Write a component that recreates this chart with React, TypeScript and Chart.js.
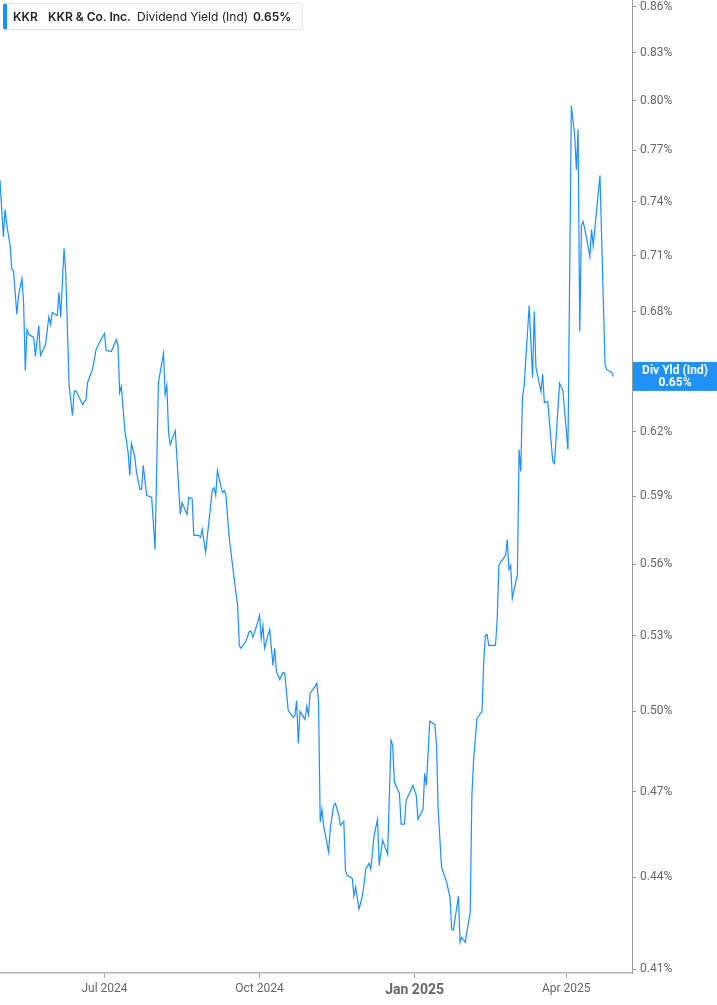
import React, { useEffect, useRef } from 'react';
import { Chart, registerables } from 'chart.js';

Chart.register(...registerables);

// ---- data ----
const dates: string[] = [
  '2024-04-30','2024-05-02','2024-05-03','2024-05-04','2024-05-06','2024-05-07','2024-05-08','2024-05-10','2024-05-11','2024-05-13',
  '2024-05-14','2024-05-15','2024-05-16','2024-05-17','2024-05-20','2024-05-21','2024-05-23','2024-05-24','2024-05-27','2024-05-29',
  '2024-05-30','2024-05-31','2024-06-03','2024-06-04','2024-06-05','2024-06-07','2024-06-08','2024-06-10','2024-06-12','2024-06-13',
  '2024-06-14','2024-06-18','2024-06-20','2024-06-21','2024-06-24','2024-06-26','2024-06-28','2024-07-01','2024-07-02','2024-07-05',
  '2024-07-08','2024-07-09','2024-07-10','2024-07-11','2024-07-13','2024-07-15','2024-07-16','2024-07-17','2024-07-19','2024-07-20',
  '2024-07-22','2024-07-23','2024-07-24','2024-07-26','2024-07-29','2024-07-31','2024-08-02','2024-08-05','2024-08-06','2024-08-07',
  '2024-08-08','2024-08-09','2024-08-12','2024-08-15','2024-08-16','2024-08-19','2024-08-20','2024-08-22','2024-08-23','2024-08-26',
  '2024-08-27','2024-08-28','2024-08-30','2024-09-03','2024-09-04','2024-09-05','2024-09-06','2024-09-08','2024-09-09','2024-09-10',
  '2024-09-11','2024-09-13','2024-09-16','2024-09-18','2024-09-19','2024-09-20','2024-09-23','2024-09-25','2024-09-26','2024-09-27',
  '2024-09-29','2024-10-01','2024-10-02','2024-10-03','2024-10-04','2024-10-06','2024-10-07','2024-10-09','2024-10-10','2024-10-11',
  '2024-10-13','2024-10-15','2024-10-16','2024-10-18','2024-10-21','2024-10-22','2024-10-23','2024-10-24','2024-10-25','2024-10-28',
  '2024-10-29','2024-10-30','2024-10-31','2024-11-03','2024-11-04','2024-11-05','2024-11-06','2024-11-07','2024-11-08','2024-11-11',
  '2024-11-12','2024-11-14','2024-11-15','2024-11-17','2024-11-18','2024-11-20','2024-11-21','2024-11-22','2024-11-25','2024-11-26',
  '2024-11-27','2024-11-29','2024-12-01','2024-12-02','2024-12-03','2024-12-05','2024-12-06','2024-12-08','2024-12-10','2024-12-11',
  '2024-12-13','2024-12-16','2024-12-18','2024-12-19','2024-12-20','2024-12-23','2024-12-24','2024-12-26','2024-12-27','2024-12-31',
  '2025-01-02','2025-01-03','2025-01-06','2025-01-07','2025-01-08','2025-01-10','2025-01-13','2025-01-14','2025-01-15','2025-01-17',
  '2025-01-20','2025-01-22','2025-01-23','2025-01-24','2025-01-27','2025-01-28','2025-01-29','2025-01-31','2025-02-03','2025-02-04',
  '2025-02-05','2025-02-07','2025-02-10','2025-02-11','2025-02-12','2025-02-13','2025-02-14','2025-02-18','2025-02-19','2025-02-20',
  '2025-02-21','2025-02-24','2025-02-25','2025-02-26','2025-02-27','2025-02-28','2025-03-03','2025-03-04','2025-03-05','2025-03-06',
  '2025-03-07','2025-03-10','2025-03-12','2025-03-13','2025-03-14','2025-03-17','2025-03-18','2025-03-19','2025-03-21','2025-03-24',
  '2025-03-25','2025-03-28','2025-03-30','2025-04-02','2025-04-04','2025-04-06','2025-04-07','2025-04-08','2025-04-09','2025-04-10',
  '2025-04-11','2025-04-13','2025-04-15','2025-04-16','2025-04-17','2025-04-21','2025-04-24','2025-04-25','2025-04-28','2025-04-29',
];

const yields: number[] = [
  0.7523,0.7205,0.7357,0.7272,0.7156,0.7025,0.7019,0.6786,0.6886,0.6976,
  0.6849,0.6500,0.6708,0.6682,0.6667,0.6570,0.6729,0.6575,0.6631,0.6775,
  0.6734,0.6796,0.6781,0.6902,0.6770,0.7139,0.7009,0.6425,0.6278,0.6395,
  0.6400,0.6332,0.6356,0.6440,0.6510,0.6605,0.6641,0.6687,0.6600,0.6595,
  0.6656,0.6626,0.6390,0.6420,0.6211,0.6102,0.5995,0.6145,0.6079,0.6009,
  0.5931,0.5931,0.6042,0.5904,0.5895,0.5663,0.6440,0.6585,0.6381,0.6425,
  0.6197,0.6140,0.6206,0.5818,0.5872,0.5818,0.5895,0.5890,0.5725,0.5725,
  0.5716,0.5751,0.5650,0.5931,0.5940,0.5904,0.6018,0.5949,0.5917,0.5926,
  0.5908,0.5716,0.5534,0.5425,0.5260,0.5248,0.5280,0.5317,0.5317,0.5293,
  0.5334,0.5383,0.5289,0.5342,0.5248,0.5301,0.5325,0.5180,0.5248,0.5156,
  0.5124,0.5152,0.5148,0.5004,0.4977,0.4984,0.5042,0.4878,0.5000,0.4969,
  0.5019,0.4988,0.5070,0.5097,0.5109,0.5035,0.4591,0.4637,0.4580,0.4486,
  0.4573,0.4651,0.4658,0.4616,0.4580,0.4594,0.4424,0.4407,0.4397,0.4337,
  0.4367,0.4294,0.4337,0.4377,0.4428,0.4448,0.4428,0.4545,0.4601,0.4441,
  0.4528,0.4479,0.4890,0.4871,0.4734,0.4694,0.4584,0.4584,0.4669,0.4723,
  0.4687,0.4601,0.4637,0.4767,0.4723,0.4962,0.4950,0.4875,0.4633,0.4434,
  0.4384,0.4333,0.4228,0.4225,0.4337,0.4186,0.4202,0.4186,0.4284,0.4687,
  0.4815,0.4973,0.5000,0.5192,0.5301,0.5305,0.5260,0.5260,0.5367,0.5594,
  0.5607,0.5637,0.5707,0.5577,0.5594,0.5454,0.5556,0.6116,0.6014,0.6366,
  0.6425,0.6833,0.6465,0.6801,0.6515,0.6395,0.6480,0.6341,0.6346,0.6060,
  0.6051,0.6435,0.6400,0.6116,0.7969,0.7788,0.7586,0.7824,0.6698,0.7267,
  0.7289,0.7200,0.7095,0.7244,0.7156,0.7552,0.6530,0.6505,0.6490,0.6470,
];

const yTicks: number[] = [0.41, 0.44, 0.47, 0.5, 0.53, 0.56, 0.59, 0.62, 0.65, 0.68, 0.71, 0.74, 0.77, 0.8, 0.83, 0.86];
const xTickDates: string[] = ['2024-07-01', '2024-10-01', '2025-01-01', '2025-04-01'];
const xTickLabels: string[] = ['Jul 2024', 'Oct 2024', 'Jan 2025', 'Apr 2025'];

const AXIS_START = '2024-04-30';
const AXIS_END = '2025-05-10';
const Y_MIN = 0.4088;
const Y_MAX = 0.8644;

const TICKER = 'KKR';
const COMPANY = 'KKR & Co. Inc.';
const METRIC = 'Dividend Yield (Ind)';
const BADGE_TITLE = 'Div Yld (Ind)';

const LINE_COLOR = '#1e8fff';
const BADGE_COLOR = '#2192f5';
const TICK_COLOR = '#666666';

const DAY_MS = 86400000;
const dayOf = (s: string) =>
  (Date.parse(s + 'T00:00:00Z') - Date.parse(AXIS_START + 'T00:00:00Z')) / DAY_MS;

const lastValue = yields[yields.length - 1];

const badgePlugin = {
  id: 'lastValueBadge',
  afterDraw(chart: any) {
    const { ctx, chartArea, scales } = chart;
    const y = scales.y.getPixelForValue(lastValue);
    const left = chartArea.right + 1;
    const w = chart.width - left;
    const h = 29;
    ctx.save();
    ctx.fillStyle = BADGE_COLOR;
    ctx.fillRect(left, y - h / 2, w, h);
    ctx.fillStyle = '#ffffff';
    ctx.font = 'bold 12px Roboto';
    ctx.textAlign = 'center';
    ctx.textBaseline = 'middle';
    ctx.fillText(BADGE_TITLE, left + w / 2, y - 5);
    ctx.fillText(lastValue.toFixed(2) + '%', left + w / 2, y + 6.5);
    ctx.restore();
  },
};

export default function App() {
  const ref = useRef<HTMLCanvasElement>(null);

  useEffect(() => {
    document.body.style.margin = '0';
    const canvas = ref.current;
    if (!canvas) return;
    const points = dates.map((d, i) => ({ x: dayOf(d), y: yields[i] }));
    const chart = new Chart(canvas, {
      type: 'line',
      data: {
        datasets: [
          {
            data: points,
            borderColor: LINE_COLOR,
            borderWidth: 1.2,
            pointRadius: 0,
            tension: 0,
            fill: false,
          },
        ],
      },
      options: {
        animation: false,
        responsive: false,
        maintainAspectRatio: false,
        events: [],
        layout: { padding: 0 },
        plugins: { legend: { display: false }, tooltip: { enabled: false } },
        scales: {
          x: {
            type: 'linear',
            min: 0,
            max: dayOf(AXIS_END),
            afterBuildTicks: (s: any) => {
              s.ticks = xTickDates.map((d) => ({ value: dayOf(d) }));
            },
            afterFit: (s: any) => {
              s.height = 32;
              s.paddingLeft = 0;
              s.paddingRight = 0;
            },
            ticks: {
              autoSkip: false,
              maxRotation: 0,
              padding: 4,
              color: TICK_COLOR,
              callback: (_v: any, i: number) => xTickLabels[i],
              font: (c: any) =>
                xTickLabels[c.index] && xTickLabels[c.index].startsWith('Jan')
                  ? { family: 'Roboto', size: 14, weight: 'bold' }
                  : { family: 'Roboto', size: 12 },
            },
            grid: { drawOnChartArea: false, tickLength: 5, color: '#aaaaaa' },
            border: { color: '#b3b3b3', width: 1.5 },
          },
          y: {
            type: 'logarithmic',
            position: 'right',
            min: Y_MIN,
            max: Y_MAX,
            afterBuildTicks: (s: any) => {
              s.ticks = yTicks.map((v) => ({ value: v }));
            },
            afterFit: (s: any) => {
              s.width = 85;
              s.paddingTop = 0;
              s.paddingBottom = 0;
            },
            ticks: {
              autoSkip: false,
              padding: 4,
              color: TICK_COLOR,
              font: { family: 'Roboto', size: 12 },
              callback: (v: any) => Number(v).toFixed(2) + '%',
            },
            grid: { drawOnChartArea: false, tickLength: 4, color: '#999999' },
            border: { color: '#999999', width: 1 },
          },
        },
      } as any,
      plugins: [badgePlugin],
    });
    return () => chart.destroy();
  }, []);

  const spanBase: React.CSSProperties = {
    position: 'absolute',
    top: 0,
    lineHeight: '25px',
    whiteSpace: 'nowrap',
  };

  return (
    <div style={{ position: 'relative', width: 717, height: 1005, background: '#fff', overflow: 'hidden' }}>
      <canvas ref={ref} width={717} height={1005} style={{ display: 'block', width: 717, height: 1005 }} />
      <div
        style={{
          position: 'absolute',
          left: 3,
          top: 3,
          width: 300,
          height: 27,
          boxSizing: 'border-box',
          background: '#fff',
          border: '1px solid #e6e6e6',
          borderLeft: '4px solid ' + LINE_COLOR,
          borderRadius: 3,
          fontFamily: 'Inter, "Noto Sans", sans-serif',
          fontSize: 12,
          color: '#222',
        }}
      >
        <span style={{ ...spanBase, left: 6, fontWeight: 600 }}>{TICKER}</span>
        <span style={{ ...spanBase, left: 41, fontWeight: 600 }}>{COMPANY}</span>
        <span style={{ ...spanBase, left: 130, fontWeight: 400 }}>{METRIC}</span>
        <span style={{ ...spanBase, left: 246, fontWeight: 600 }}>{lastValue.toFixed(2) + '%'}</span>
      </div>
    </div>
  );
}
